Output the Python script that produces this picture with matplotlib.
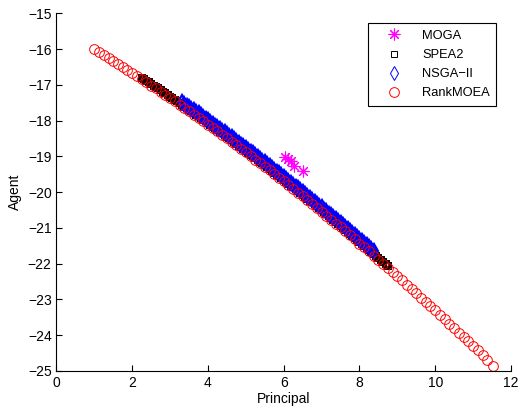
import matplotlib
matplotlib.use('Agg')
import matplotlib.pyplot as plt

plt.rcParams['font.family'] = ['Liberation Sans', 'DejaVu Sans']

# MOGA (few points sitting above the front)
moga_x = [6.03, 6.12, 6.20, 6.28, 6.52]
moga_y = [-19.01, -19.08, -19.13, -19.27, -19.40]

# SPEA2
spea2_x = [2.25, 2.3125, 2.375, 2.4375, 2.5, 2.5625, 2.625, 2.6875, 2.75, 2.8125,
           2.875, 2.9375, 3.0, 3.0625, 3.125, 3.1875, 3.25, 3.3125, 3.375, 3.4375,
           3.5, 3.5625, 3.625, 3.6875, 3.75, 3.8125, 3.875, 3.9375, 4.0, 4.0625,
           4.125, 4.1875, 4.25, 4.3125, 4.375, 4.4375, 4.5, 4.5625, 4.625, 4.6875,
           4.75, 4.8125, 4.875, 4.9375, 5.0, 5.0625, 5.125, 5.1875, 5.25, 5.3125,
           5.375, 5.4375, 5.5, 5.5625, 5.625, 5.6875, 5.75, 5.8125, 5.875, 5.9375,
           6.0, 6.0625, 6.125, 6.1875, 6.25, 6.3125, 6.375, 6.4375, 6.5, 6.5625,
           6.625, 6.6875, 6.75, 6.8125, 6.875, 6.9375, 7.0, 7.0625, 7.125, 7.1875,
           7.25, 7.3125, 7.375, 7.4375, 7.5, 7.5625, 7.625, 7.6875, 7.75, 7.8125,
           7.875, 7.9375, 8.0, 8.0625, 8.125, 8.1875, 8.25, 8.3125, 8.375, 8.4375,
           8.5, 8.5625, 8.625, 8.6875, 8.75]
spea2_y = [-16.80, -16.84, -16.89, -16.93, -16.98, -17.02, -17.06, -17.10, -17.15, -17.19,
           -17.24, -17.28, -17.33, -17.37, -17.42, -17.46, -17.51, -17.56, -17.61, -17.65,
           -17.70, -17.74, -17.79, -17.83, -17.88, -17.93, -17.98, -18.02, -18.07, -18.12,
           -18.17, -18.21, -18.26, -18.31, -18.36, -18.41, -18.46, -18.50, -18.55, -18.60,
           -18.65, -18.70, -18.75, -18.80, -18.85, -18.90, -18.95, -19.00, -19.05, -19.10,
           -19.15, -19.20, -19.25, -19.30, -19.35, -19.40, -19.46, -19.51, -19.56, -19.61,
           -19.66, -19.71, -19.77, -19.82, -19.87, -19.92, -19.98, -20.03, -20.08, -20.13,
           -20.19, -20.24, -20.29, -20.34, -20.40, -20.45, -20.51, -20.56, -20.62, -20.67,
           -20.73, -20.78, -20.84, -20.89, -20.95, -21.00, -21.06, -21.11, -21.17, -21.22,
           -21.28, -21.34, -21.40, -21.45, -21.51, -21.56, -21.62, -21.68, -21.74, -21.79,
           -21.85, -21.91, -21.97, -22.02, -22.08]

# NSGA-II
nsga_x = [3.3125, 3.375, 3.4375, 3.5, 3.5625, 3.625, 3.6875, 3.75, 3.8125, 3.875,
          3.9375, 4.0, 4.0625, 4.125, 4.1875, 4.25, 4.3125, 4.375, 4.4375, 4.5,
          4.5625, 4.625, 4.6875, 4.75, 4.8125, 4.875, 4.9375, 5.0, 5.0625, 5.125,
          5.1875, 5.25, 5.3125, 5.375, 5.4375, 5.5, 5.5625, 5.625, 5.6875, 5.75,
          5.8125, 5.875, 5.9375, 6.0, 6.0625, 6.125, 6.1875, 6.25, 6.3125, 6.375,
          6.4375, 6.5, 6.5625, 6.625, 6.6875, 6.75, 6.8125, 6.875, 6.9375, 7.0,
          7.0625, 7.125, 7.1875, 7.25, 7.3125, 7.375, 7.4375, 7.5, 7.5625, 7.625,
          7.6875, 7.75, 7.8125, 7.875, 7.9375, 8.0, 8.0625, 8.125, 8.1875, 8.25,
          8.3125, 8.375]
nsga_y = [-17.48, -17.53, -17.58, -17.62, -17.67, -17.71, -17.76, -17.80, -17.85, -17.90,
          -17.95, -17.99, -18.04, -18.09, -18.14, -18.18, -18.23, -18.28, -18.33, -18.38,
          -18.43, -18.47, -18.52, -18.57, -18.62, -18.67, -18.72, -18.77, -18.82, -18.87,
          -18.92, -18.97, -19.02, -19.07, -19.12, -19.17, -19.22, -19.27, -19.33, -19.38,
          -19.43, -19.48, -19.53, -19.58, -19.64, -19.69, -19.74, -19.79, -19.85, -19.90,
          -19.95, -20.00, -20.06, -20.11, -20.16, -20.21, -20.27, -20.32, -20.38, -20.43,
          -20.49, -20.54, -20.60, -20.65, -20.71, -20.76, -20.82, -20.87, -20.93, -20.98,
          -21.04, -21.09, -21.15, -21.20, -21.26, -21.32, -21.38, -21.43, -21.49, -21.54,
          -21.60, -21.66]

# RankMOEA
rank_x = [1.0, 1.125, 1.25, 1.375, 1.5, 1.625, 1.75, 1.875, 2.0, 2.125,
          2.25, 2.375, 2.5, 2.625, 2.75, 2.875, 3.0, 3.125, 3.25, 3.375,
          3.5, 3.625, 3.75, 3.875, 4.0, 4.125, 4.25, 4.375, 4.5, 4.625,
          4.75, 4.875, 5.0, 5.125, 5.25, 5.375, 5.5, 5.625, 5.75, 5.875,
          6.0, 6.125, 6.25, 6.375, 6.5, 6.625, 6.75, 6.875, 7.0, 7.125,
          7.25, 7.375, 7.5, 7.625, 7.75, 7.875, 8.0, 8.125, 8.25, 8.375,
          8.5, 8.625, 8.75, 8.875, 9.0, 9.125, 9.25, 9.375, 9.5, 9.625,
          9.75, 9.875, 10.0, 10.125, 10.25, 10.375, 10.5, 10.625, 10.75, 10.875,
          11.0, 11.125, 11.25, 11.375, 11.52]
rank_y = [-16.00, -16.08, -16.16, -16.25, -16.33, -16.41, -16.50, -16.58, -16.67, -16.75,
          -16.84, -16.93, -17.02, -17.10, -17.19, -17.28, -17.37, -17.46, -17.55, -17.65,
          -17.74, -17.83, -17.92, -18.02, -18.11, -18.21, -18.30, -18.40, -18.50, -18.59,
          -18.69, -18.79, -18.89, -18.99, -19.09, -19.19, -19.29, -19.39, -19.50, -19.60,
          -19.70, -19.81, -19.91, -20.02, -20.12, -20.23, -20.33, -20.44, -20.55, -20.66,
          -20.77, -20.88, -20.99, -21.10, -21.21, -21.32, -21.44, -21.55, -21.66, -21.78,
          -21.89, -22.01, -22.12, -22.24, -22.36, -22.47, -22.59, -22.71, -22.83, -22.95,
          -23.07, -23.19, -23.31, -23.44, -23.56, -23.68, -23.81, -23.93, -24.05, -24.18,
          -24.31, -24.43, -24.56, -24.69, -24.86]


def Display():
    fig = plt.figure(figsize=(5.23, 4.18), dpi=100)
    ax = fig.add_axes([0.108, 0.113, 0.869, 0.855])

    ax.plot(moga_x, moga_y, linestyle='none', marker=(8, 2, 0), markersize=8.5,
            markeredgecolor='#ff00ff', markeredgewidth=0.8, label='MOGA')
    # dense fronts: thicker outlines so the overlapping markers read as a band
    ax.plot(spea2_x, spea2_y, linestyle='none', marker='s', markersize=5,
            markerfacecolor='none', markeredgecolor='black', markeredgewidth=1.4)
    ax.plot(nsga_x, nsga_y, linestyle='none', marker='d', markersize=7.5,
            markerfacecolor='none', markeredgecolor='blue', markeredgewidth=1.6)
    ax.plot(rank_x, rank_y, linestyle='none', marker='o', markersize=7,
            markerfacecolor='none', markeredgecolor='red', markeredgewidth=0.7,
            label='RankMOEA')

    # legend handles with thin outlines
    h_moga = ax.lines[0]
    h_spea, = ax.plot([], [], linestyle='none', marker='s', markersize=5,
                      markerfacecolor='none', markeredgecolor='black',
                      markeredgewidth=0.7, label='SPEA2')
    h_nsga, = ax.plot([], [], linestyle='none', marker='d', markersize=7.5,
                      markerfacecolor='none', markeredgecolor='blue',
                      markeredgewidth=0.7, label='NSGA\u2212II')
    h_rank = ax.lines[3]

    ax.set_xlim(0, 12)
    ax.set_ylim(-25, -15)
    ax.set_xticks(range(0, 13, 2))
    ax.set_yticks(range(-25, -14))
    ax.spines['top'].set_visible(False)
    ax.spines['right'].set_visible(False)
    ax.tick_params(direction='in', labelsize=10, length=4)
    ax.set_xlabel('Principal', fontsize=10, labelpad=2)
    ax.set_ylabel('Agent', fontsize=10, labelpad=4)

    leg = ax.legend(handles=[h_moga, h_spea, h_nsga, h_rank],
                    loc='upper right', bbox_to_anchor=(0.968, 0.972), borderaxespad=0,
                    fancybox=False, edgecolor='black', framealpha=1, fontsize=9.3,
                    handlelength=3.0, handletextpad=0.7, labelspacing=0.55,
                    borderpad=0.5)
    leg.get_frame().set_linewidth(0.8)

    fig.savefig('out.png', dpi=100)


def main():
    Display()


if __name__ == "__main__":
    main()
